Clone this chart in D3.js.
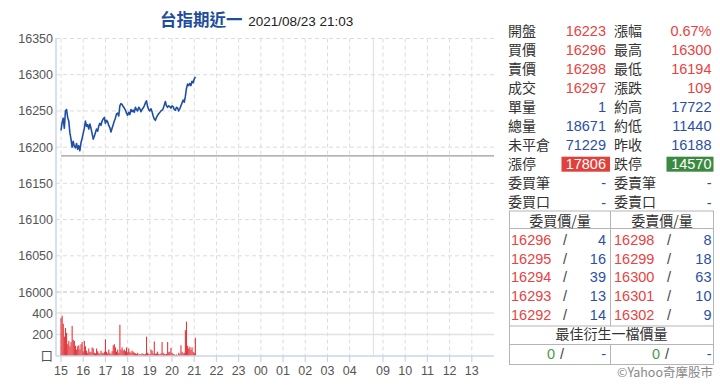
<!DOCTYPE html>
<html><head><meta charset="utf-8">
<script src="https://cdn.jsdelivr.net/npm/d3@7"></script>
<style>
html,body{margin:0;padding:0;background:#fff;}
svg{display:block;font-family:"Noto Sans CJK TC","Noto Sans",sans-serif;}
.num{font-family:"Liberation Sans",Arimo,sans-serif;}
</style></head>
<body><svg id="c" width="720" height="388"></svg>
<script>
// ---------- data ----------
const titleName = "台指期近一";
const titleTime = "2021/08/23 21:03";
const prevClose = 16188;
const stepMinutes = 3; // one reading every 3 minutes from 15:00
const prices = [16223,16234,16240,16226,16250,16252,16241,16236,16220,16211,16200,16208,16201,16199,16205,16197,16202,16195,16206,16212,
16219,16226,16236,16229,16231,16225,16232,16226,16219,16211,16215,16220,16225,16222,16229,16233,16230,16236,16239,16241,
16233,16237,16235,16230,16227,16221,16226,16231,16236,16240,16246,16247,16243,16257,16260,16259,16256,16254,16251,16247,
16244,16248,16245,16252,16249,16251,16248,16255,16252,16250,16255,16253,16249,16252,16254,16257,16261,16264,16256,16252,
16250,16253,16249,16243,16239,16237,16241,16244,16246,16248,16250,16251,16253,16258,16263,16257,16255,16257,16256,16254,
16257,16256,16252,16251,16255,16254,16250,16253,16257,16261,16265,16262,16270,16281,16287,16285,16288,16285,16291,16289,
16294,16297];
const volumes = [355,375,300,180,260,215,110,140,90,130,280,150,140,95,60,90,100,60,110,130,
45,140,90,50,30,70,40,35,80,70,30,25,70,45,30,20,50,30,25,40,
155,40,25,60,30,20,45,100,110,80,40,60,30,290,60,80,50,60,45,80,
35,70,40,30,50,40,30,25,20,30,15,20,15,25,20,15,20,180,30,20,
15,60,50,25,135,20,25,40,20,15,25,130,30,20,15,20,130,35,40,75,
30,20,15,10,15,10,30,20,100,40,25,30,240,320,95,70,85,60,80,40,
30,170];
const priceTicks = [16000,16050,16100,16150,16200,16250,16300,16350];
const volTicks = [200,400];
const volZeroLabel = "口";
const hourLabels = ["15","16","17","18","19","20","21","22","23","00","01","02","03","04","09","10","11","12","13"];

const quoteLeftLabels  = ["開盤","買價","賣價","成交","單量","總量","未平倉","漲停","委買筆","委買口"];
const quoteLeftValues  = ["16223","16296","16298","16297","1","18671","71229","17806","-","-"];
const quoteLeftColors  = ["r","r","r","r","b","b","b","box-r","b","b"];
const quoteRightLabels = ["漲幅","最高","最低","漲跌","約高","約低","昨收","跌停","委賣筆","委賣口"];
const quoteRightValues = ["0.67%","16300","16194","109","17722","11440","16188","14570","-","-"];
const quoteRightColors = ["r","r","r","r","b","b","b","box-g","b","b"];
const bidPrices = [16296,16295,16294,16293,16292];
const bidQty    = [4,16,39,13,14];
const askPrices = [16298,16299,16300,16301,16302];
const askQty    = [8,18,63,10,9];

// ---------- helpers ----------
// virtual minutes: night session 15:00 -> 05:00, then day session from 08:45 after a short gap
function hourToVirtual(h){
  const hh = +h;
  if (hh >= 15) return (hh-15)*60;
  if (hh <= 5) return (hh+9)*60;
  return 855 + (hh*60 - 525);
}
const svg = d3.select("#c");
const RED="#e8433f", BLUE="#2b4fa6", GREEN="#4a9a4e", LAB="#333", AX="#555";

const x = d3.scaleLinear().domain([-13.5,1170]).range([56,494]);
const y = d3.scaleLinear().domain([16000,16350]).range([292,38.5]);
const yv = d3.scaleLinear().domain([0,400]).range([356,313]);

// ---------- title ----------
const t = svg.append("text").attr("x",160).attr("y",26);
t.append("tspan").text(titleName).attr("fill","#1e4d9e").attr("font-size",16.5).attr("font-weight",700);
t.append("tspan").text(" "+titleTime).attr("fill","#222").attr("font-size",13.5).attr("dx",2).attr("class","num");

// ---------- grid ----------
const g = svg.append("g");
g.selectAll("line.vg").data(hourLabels).join("line")
  .attr("x1",d=>x(hourToVirtual(d))).attr("x2",d=>x(hourToVirtual(d)))
  .attr("y1",38.5).attr("y2",356)
  .attr("stroke","#dcdcdc").attr("stroke-dasharray","4,3");
g.append("line").attr("x1",x(844)).attr("x2",x(844)).attr("y1",38.5).attr("y2",356)
  .attr("stroke","#dedede");
g.selectAll("line.hg").data(priceTicks).join("line")
  .attr("x1",56).attr("x2",494).attr("y1",d=>y(d)).attr("y2",d=>y(d))
  .attr("stroke",d=>d===16000?"#d4d4d4":"#dcdcdc")
  .attr("stroke-width",d=>d===16000?1.6:1)
  .attr("stroke-dasharray","4,3");
g.selectAll("line.vgr").data(volTicks).join("line")
  .attr("x1",56).attr("x2",494).attr("y1",d=>yv(d)).attr("y2",d=>yv(d))
  .attr("stroke","#e2e2e2").attr("stroke-width",1.4);
g.append("line").attr("x1",x(0)).attr("x2",494).attr("y1",y(prevClose)).attr("y2",y(prevClose))
  .attr("stroke","#9a9a9a").attr("stroke-width",1.2);

// ---------- volume bars ----------
svg.append("g").selectAll("rect").data(volumes).join("rect")
  .attr("x",(d,i)=>x(i*stepMinutes)-0.5).attr("width",1.1)
  .attr("y",d=>yv(d)).attr("height",d=>yv(0)-yv(d))
  .attr("fill","#e2383c");

// ---------- price line ----------
const line = d3.line().x((d,i)=>x(i*stepMinutes)).y(d=>y(d));
svg.append("path").datum(prices).attr("d",line)
  .attr("fill","none").attr("stroke","#1f4fa5").attr("stroke-width",1.6).attr("stroke-linejoin","round");

// ---------- axes lines ----------
svg.append("line").attr("x1",56).attr("x2",56).attr("y1",38).attr("y2",356).attr("stroke","#c8d6ea").attr("stroke-width",1.5);
svg.append("line").attr("x1",56).attr("x2",494).attr("y1",356).attr("y2",356).attr("stroke","#c8d6ea").attr("stroke-width",1.5);
svg.selectAll("line.tk").data(hourLabels).join("line")
  .attr("x1",d=>x(hourToVirtual(d))).attr("x2",d=>x(hourToVirtual(d)))
  .attr("y1",356).attr("y2",362).attr("stroke","#c8d6ea").attr("stroke-width",1.2);

// ---------- axis labels ----------
const yAxis = d3.axisLeft(y).tickValues(priceTicks).tickSize(0).tickPadding(3).tickFormat(d3.format("d"));
const ya = svg.append("g").attr("transform","translate(56,0)").call(yAxis);
ya.select(".domain").remove();
ya.selectAll("text").attr("fill",AX).attr("font-size",12.5).attr("font-family","Liberation Sans, Arimo, sans-serif");

const vAxis = d3.axisLeft(yv).tickValues([0].concat(volTicks)).tickSize(0).tickPadding(3)
  .tickFormat(d=>d===0?volZeroLabel:d3.format("d")(d));
const va = svg.append("g").attr("transform","translate(56,0)").call(vAxis);
va.select(".domain").remove();
va.selectAll("text").attr("fill",AX).attr("font-size",12.5)
  .attr("font-family",d=>d===0?"Noto Sans CJK TC, sans-serif":"Liberation Sans, Arimo, sans-serif");

svg.append("g").selectAll("text").data(hourLabels).join("text")
  .attr("class","num")
  .attr("x",d=>x(hourToVirtual(d))).attr("y",375)
  .attr("text-anchor","middle").attr("fill",AX).attr("font-size",12.5).text(d=>d);

// ---------- quote panel ----------
const qp = svg.append("g").attr("font-size",14.5);
const rowY = i => 30.7 + i*19.07;
function valColor(c){return c==="r"?RED:(c==="b"?BLUE:"#fff");}
quoteLeftLabels.forEach((lab,i)=>{
  qp.append("text").attr("x",508).attr("y",rowY(i)).attr("dy","0.36em").attr("fill",LAB).attr("font-size",14).text(lab);
  qp.append("text").attr("x",614).attr("y",rowY(i)).attr("dy","0.36em").attr("fill",LAB).attr("font-size",14).text(quoteRightLabels[i]);
  if (quoteLeftColors[i]==="box-r"){
    qp.append("rect").attr("x",561.5).attr("y",rowY(i)-7.5).attr("width",48.5).attr("height",15).attr("fill","#e0413c");
  }
  if (quoteRightColors[i]==="box-g"){
    qp.append("rect").attr("x",666.5).attr("y",rowY(i)-7.5).attr("width",47).attr("height",15).attr("fill","#3b8a40");
  }
  qp.append("text").attr("class","num").attr("x",606).attr("y",rowY(i)).attr("dy","0.36em").attr("text-anchor","end")
    .attr("fill",valColor(quoteLeftColors[i])).text(quoteLeftValues[i]);
  qp.append("text").attr("class","num").attr("x",711.5).attr("y",rowY(i)).attr("dy","0.36em").attr("text-anchor","end")
    .attr("fill",valColor(quoteRightColors[i])).text(quoteRightValues[i]);
});

// order book table
const tb = svg.append("g").attr("font-size",14.5);
const TL=509.5, TR=713.5, TM=610.5, TT=211, TB=364.5;
tb.append("rect").attr("x",TL).attr("y",TT).attr("width",TR-TL).attr("height",TB-TT)
  .attr("fill","none").attr("stroke","#b5b5b5");
[228.5,326,344.5].forEach(yy=>tb.append("line").attr("x1",TL).attr("x2",TR).attr("y1",yy).attr("y2",yy).attr("stroke","#b5b5b5"));
tb.append("line").attr("x1",TM).attr("x2",TM).attr("y1",TT).attr("y2",326).attr("stroke","#b5b5b5");
tb.append("line").attr("x1",TM).attr("x2",TM).attr("y1",344.5).attr("y2",TB).attr("stroke","#b5b5b5");

tb.append("text").attr("x",(TL+TM)/2).attr("y",220.5).attr("dy","0.36em").attr("text-anchor","middle").attr("fill",LAB).attr("font-size",14).text("委買價/量");
tb.append("text").attr("x",(TM+TR)/2).attr("y",220.5).attr("dy","0.36em").attr("text-anchor","middle").attr("fill",LAB).attr("font-size",14).text("委賣價/量");
const bookY = i => 240 + i*18.6;
bidPrices.forEach((p,i)=>{
  const row = tb.append("g").attr("class","num");
  row.append("text").attr("x",511).attr("y",bookY(i)).attr("dy","0.36em").attr("fill",RED).text(p);
  row.append("text").attr("x",563).attr("y",bookY(i)).attr("dy","0.36em").attr("fill","#444").text("/");
  row.append("text").attr("x",606).attr("y",bookY(i)).attr("dy","0.36em").attr("text-anchor","end").attr("fill",BLUE).text(bidQty[i]);
  row.append("text").attr("x",614).attr("y",bookY(i)).attr("dy","0.36em").attr("fill",RED).text(askPrices[i]);
  row.append("text").attr("x",667).attr("y",bookY(i)).attr("dy","0.36em").attr("fill","#444").text("/");
  row.append("text").attr("x",711.5).attr("y",bookY(i)).attr("dy","0.36em").attr("text-anchor","end").attr("fill",BLUE).text(askQty[i]);
});
tb.append("text").attr("x",(TL+TR)/2).attr("y",334).attr("dy","0.36em").attr("text-anchor","middle").attr("fill",LAB).attr("font-size",14).text("最佳衍生一檔價量");
[[555,560,606],[660,665,711.5]].forEach(c=>{
  const row = tb.append("g").attr("class","num");
  row.append("text").attr("x",c[0]).attr("y",353.5).attr("dy","0.36em").attr("text-anchor","end").attr("fill",GREEN).text("0");
  row.append("text").attr("x",c[1]).attr("y",353.5).attr("dy","0.36em").attr("fill","#444").text("/");
  row.append("text").attr("x",c[2]).attr("y",353.5).attr("dy","0.36em").attr("text-anchor","end").attr("fill",BLUE).text("-");
});
svg.append("text").attr("x",713).attr("y",372.5).attr("dy","0.36em").attr("text-anchor","end")
  .attr("fill","#888").attr("font-size",12.5).text("©Yahoo奇摩股市");
</script></body></html>
